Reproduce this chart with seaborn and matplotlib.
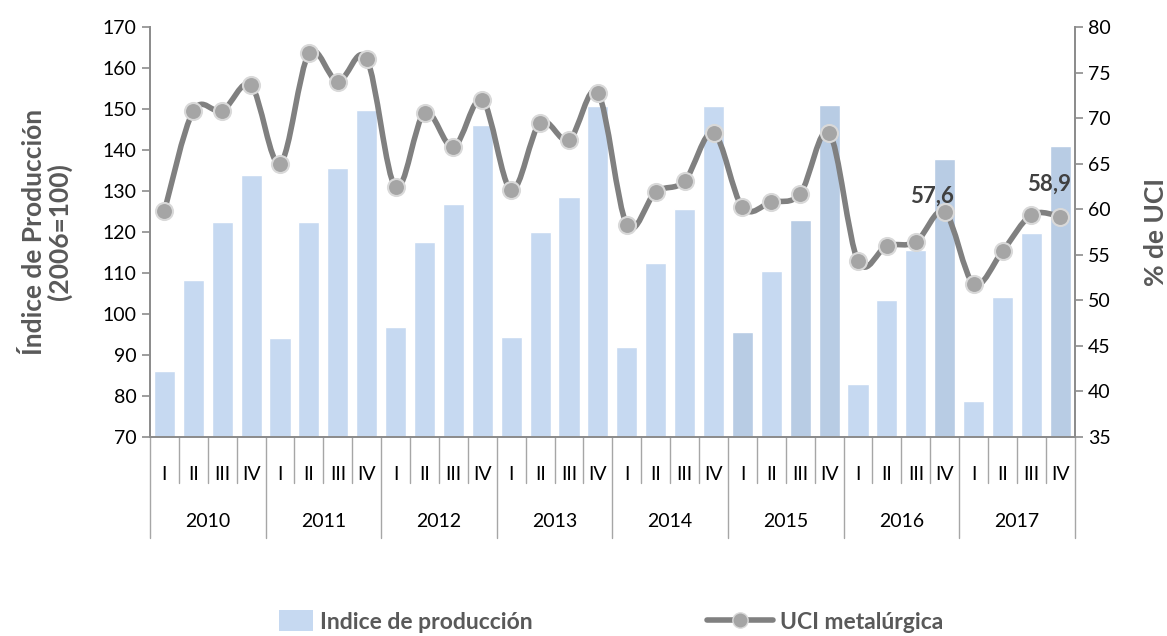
"""Indice de produccion vs UCI metalurgica, trimestral 2010-2017."""

import numpy as np
import pandas as pd
import matplotlib
matplotlib.use('Agg')
import matplotlib.pyplot as plt
from matplotlib.path import Path
from matplotlib.patches import PathPatch, Patch, Rectangle
from matplotlib.lines import Line2D
from matplotlib.legend_handler import HandlerPatch
import seaborn as sns

years = ['2010', '2011', '2012', '2013', '2014', '2015', '2016', '2017']
quarters = ['I', 'II', 'III', 'IV']

produccion = [86.1, 108.3, 122.4, 133.9,
              94.1, 122.5, 135.5, 149.8,
              96.8, 117.6, 126.8, 146.0,
              94.3, 119.9, 128.5, 150.7,
              92.0, 112.4, 125.5, 150.7,
              95.6, 110.5, 122.9, 151.0,
              82.9, 103.5, 115.7, 137.8,
              78.9, 104.1, 119.8, 141.0]

uci = [59.8, 70.8, 70.8, 73.6,
       65.0, 77.1, 74.0, 76.5,
       62.4, 70.6, 66.8, 72.0,
       62.1, 69.5, 67.6, 72.8,
       58.3, 61.9, 63.1, 68.4,
       60.2, 60.8, 61.7, 68.4,
       54.3, 56.0, 56.4, 59.7,
       51.8, 55.4, 59.4, 59.2]

# bars drawn in the darker shade
dark_bars = ['2015-I', '2015-III', '2015-IV', '2016-IV', '2017-IV']

# labels shown on the line, with their offsets (points)
etiquetas = {'2016-IV': ('57,6', (-9, 4)), '2017-IV': ('58,9', (-8, 16))}

light = '#c6d9f1'
dark = '#b8cce4'
gris_linea = '#808080'
gris_eje = '#8c8c8c'
gris_texto = '#595959'

periodos = [f'{y}-{q}' for y in years for q in quarters]
df = pd.DataFrame({'periodo': periodos,
                   'trimestre': [q for y in years for q in quarters],
                   'produccion': produccion,
                   'uci': uci})

sns.set_theme(style='white')
plt.rcParams['font.family'] = ['Lato', 'DejaVu Sans']

fig = plt.figure(figsize=(11.67, 6.36), dpi=100)
ax = fig.add_axes([0.1285, 0.3129, 0.7925, 0.6446])

colores = [dark if p in dark_bars else light for p in periodos]
sns.barplot(data=df, x='periodo', y='produccion', hue='periodo',
            palette=colores, width=0.73, legend=False, ax=ax, saturation=1)

ax.set_ylim(70, 170)
ax.set_yticks(np.arange(70, 171, 10))
ax.set_xlim(-0.5, len(periodos) - 0.5)
ax.set_xticks(range(len(periodos)))
ax.set_xticklabels(df['trimestre'])
ax.tick_params(axis='x', length=0, pad=21, labelsize=14, colors='black')
ax.tick_params(axis='y', length=6, width=1.2, color=gris_eje, labelsize=14,
               direction='out', left=True, labelcolor='black')
ax.set_xlabel('')
ax.set_ylabel('Índice de Producción\n(2006=100)', fontsize=19,
              fontweight='bold', color=gris_texto, labelpad=22, linespacing=1.05)
ax.spines['top'].set_visible(False)
for s in ['left', 'right', 'bottom']:
    ax.spines[s].set_color(gris_eje)
    ax.spines[s].set_linewidth(1.3)

# category axis separators
trans = ax.get_xaxis_transform()
for i in range(len(periodos) + 1):
    largo = -0.246 if i % 4 == 0 else -0.112
    ax.plot([i - 0.5, i - 0.5], [0, largo], transform=trans, color='#a6a6a6',
            lw=1.0, clip_on=False)
for k, y in enumerate(years):
    ax.text(4 * k + 1.5, -0.207, y, transform=trans, ha='center', va='center',
            fontsize=14, color='black')

# line on secondary axis
ax2 = ax.twinx()
ax2.set_ylim(35, 80)
ax2.set_yticks(np.arange(35, 81, 5))
ax2.tick_params(axis='y', length=6, width=1.2, color=gris_eje, labelsize=14,
                direction='out', labelcolor='black')
ax2.set_ylabel('% de UCI', fontsize=19, fontweight='bold', color=gris_texto,
               labelpad=24)
ax2.spines['top'].set_visible(False)
for s in ['left', 'right', 'bottom']:
    ax2.spines[s].set_color(gris_eje)
    ax2.spines[s].set_linewidth(1.3)
ax2.grid(False)
ax.grid(False)

# smoothed line (catmull-rom as bezier), like Excel's smoothed line
pts = np.column_stack([np.arange(len(uci)), uci]).astype(float)
verts = [pts[0]]
codes = [Path.MOVETO]
n = len(pts)
for i in range(n - 1):
    p0 = pts[max(i - 1, 0)]
    p1 = pts[i]
    p2 = pts[i + 1]
    p3 = pts[min(i + 2, n - 1)]
    c1 = p1 + (p2 - p0) / 6.0
    c2 = p2 - (p3 - p1) / 6.0
    verts += [c1, c2, p2]
    codes += [Path.CURVE4] * 3
ax2.add_patch(PathPatch(Path(verts, codes), facecolor='none',
                        edgecolor=gris_linea, lw=4.0, capstyle='round',
                        joinstyle='round', zorder=3))
sns.scatterplot(x=np.arange(len(uci)), y=uci, ax=ax2, s=150, color='#a5a5a5',
                edgecolor='#d9d9d9', linewidth=1.5, zorder=4, legend=False)

for p, (txt, off) in etiquetas.items():
    i = periodos.index(p)
    ax2.annotate(txt, (i, uci[i]), xytext=off, textcoords='offset points',
                 ha='center', va='bottom', fontsize=16, fontweight='bold',
                 color='#404040', zorder=5)


def caja_corta(legend, orig_handle, xdescent, ydescent, width, height, fontsize):
    w = width * 0.52
    return Rectangle((-xdescent + width - w, -ydescent - 1), w, height + 2)


handles = [Patch(facecolor=light, edgecolor='none'),
           Line2D([], [], color=gris_linea, lw=4.0, marker='o', markersize=11,
                  markerfacecolor='#a5a5a5', markeredgecolor='#d9d9d9')]
fig.legend(handles, ['Indice de producción', 'UCI metalúrgica'],
           loc='center', bbox_to_anchor=(0.51, 0.022), ncol=2, frameon=False,
           prop={'size': 16.5, 'weight': 'bold'}, labelcolor=gris_texto,
           handlelength=2.9, handleheight=0.85, columnspacing=7.6,
           handletextpad=0.3,
           handler_map={Patch: HandlerPatch(patch_func=caja_corta)})

fig.savefig('out.png', dpi=100)
